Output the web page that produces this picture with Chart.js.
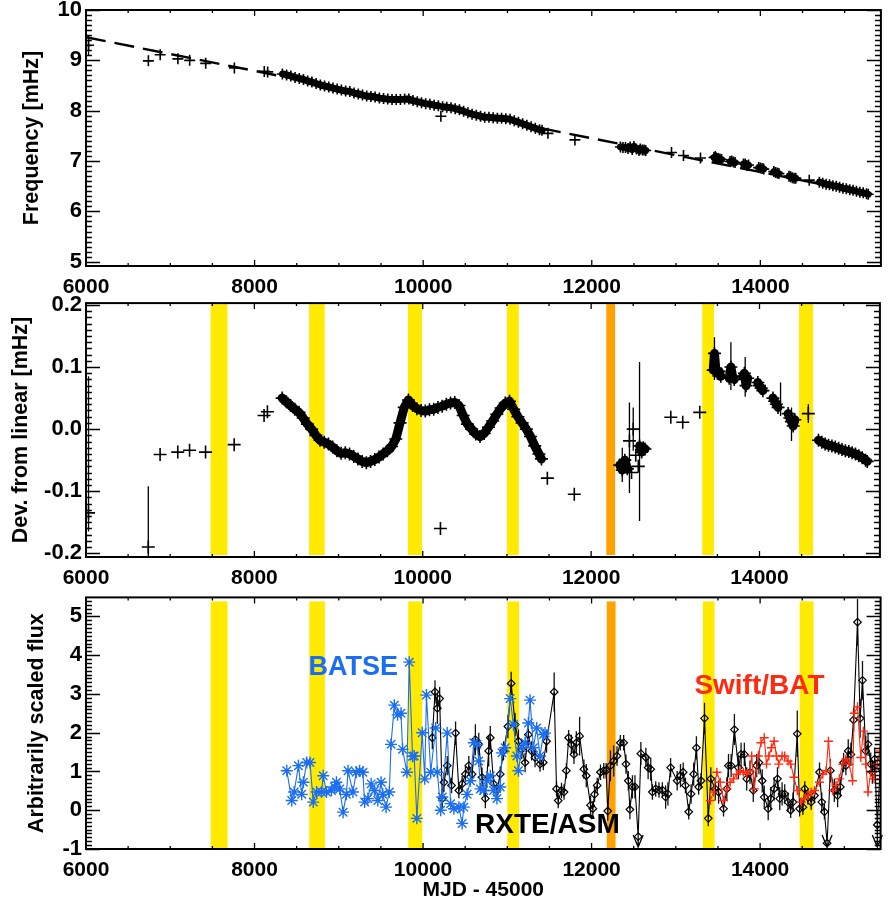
<!DOCTYPE html>
<html>
<head>
<meta charset="utf-8">
<script src="https://cdn.jsdelivr.net/npm/chart.js@4.4.0/dist/chart.umd.min.js"></script>
<style>
  body { margin: 0; background: #fff; width: 888px; height: 904px; overflow: hidden; position: relative; }
  canvas { position: absolute; left: 0; }
</style>
</head>
<body>
<canvas id="freqChart" width="888" height="295" style="top:0"></canvas>
<canvas id="devChart" width="888" height="295" style="top:295px"></canvas>
<canvas id="fluxChart" width="888" height="314" style="top:590px"></canvas>
<script>
// ---- axes / ticks ----
const xTicks = [6000, 8000, 10000, 12000, 14000];
const freqTicks = [5, 6, 7, 8, 9, 10];
const devTicks = [-0.2, -0.1, 0.0, 0.1, 0.2];
const fluxTicks = [-1, 0, 1, 2, 3, 4, 5];

// ---- shaded epochs (MJD - 45000) ----
const bandLo = [7480, 8650, 9825, 11000, 12180, 13320, 14470];
const bandHi = [7680, 8835, 9990, 11140, 12285, 13460, 14635];
const bandColor = ['#ffea00', '#ffea00', '#ffea00', '#ffea00', '#ffa200', '#ffea00', '#ffea00'];

// ---- pulse timing: frequency and deviation from linear ----
const timingMjd = [
  6030, 6740, 6880, 7090, 7230, 7420, 7760, 8115, 8155,
  8330, 8380, 8430, 8480, 8530, 8580, 8630, 8680, 8730, 8780,
  8830, 8880, 8930, 8980, 9030, 9080, 9130, 9180, 9230, 9280,
  9330, 9380, 9430, 9480, 9530, 9580, 9630, 9680, 9730, 9780,
  9830, 9880, 9930, 9980, 10030, 10080, 10130, 10180,
  10210,
  10230, 10280, 10330, 10380, 10430, 10480, 10530, 10580, 10630, 10680,
  10730, 10780, 10830, 10880, 10930, 10980, 11030, 11080, 11130, 11180,
  11230, 11280, 11330, 11380,
  11410,
  11480, 11800,
  12340, 12370, 12400, 12430, 12455, 12480, 12500, 12530, 12560, 12575, 12600, 12620, 12640,
  12946, 13088, 13290,
  13450, 13465, 13480, 13500, 13520, 13540, 13640, 13660, 13680, 13700,
  13800, 13820, 13840, 13860, 13980, 14000, 14020, 14040, 14160, 14180,
  14200, 14220, 14340, 14360, 14380, 14400, 14420, 14580,
  14700, 14740, 14780, 14820, 14860, 14900, 14940, 14980, 15020, 15060,
  15100, 15140, 15180, 15220, 15260, 15280
];
const freqMhz = [
  9.30, 8.99, 9.11, 9.03, 9.00, 8.94, 8.85, 8.78, 8.77,
  8.73, 8.71, 8.69, 8.66, 8.64, 8.62, 8.59, 8.57, 8.54, 8.51,
  8.49, 8.47, 8.45, 8.43, 8.41, 8.39, 8.38, 8.35, 8.33, 8.31,
  8.29, 8.28, 8.27, 8.25, 8.24, 8.23, 8.22, 8.22, 8.22, 8.23,
  8.23, 8.20, 8.18, 8.16, 8.14, 8.13, 8.11, 8.10,
  7.89,
  8.08, 8.07, 8.06, 8.04, 8.02, 7.99, 7.96, 7.93, 7.91, 7.89,
  7.87, 7.87, 7.86, 7.85, 7.85, 7.84, 7.83, 7.80, 7.77, 7.74,
  7.71, 7.68, 7.65, 7.62,
  7.61,
  7.55, 7.42,
  7.28, 7.27, 7.27, 7.25, 7.28, 7.23, 7.29, 7.24, 7.21, 7.24, 7.22, 7.22, 7.21,
  7.17, 7.11, 7.06,
  7.07, 7.09, 7.06, 7.05, 7.04, 7.03, 6.99, 7.00, 6.98, 6.97,
  6.94, 6.94, 6.91, 6.92, 6.87, 6.86, 6.85, 6.84, 6.79, 6.77,
  6.76, 6.75, 6.70, 6.69, 6.67, 6.66, 6.66, 6.62,
  6.58, 6.56, 6.54, 6.53, 6.51, 6.50, 6.48, 6.46, 6.45, 6.43,
  6.42, 6.40, 6.38, 6.37, 6.35, 6.34
];
const devMhz = [
  -0.135, -0.190, -0.041, -0.037, -0.034, -0.037, -0.025, 0.022, 0.028,
  0.050, 0.044, 0.038, 0.032, 0.027, 0.018, 0.008, 0.000, -0.010, -0.018,
  -0.021, -0.024, -0.029, -0.035, -0.039, -0.038, -0.040, -0.044, -0.048, -0.052,
  -0.054, -0.052, -0.049, -0.045, -0.040, -0.035, -0.028, -0.016, 0.010, 0.035,
  0.047, 0.038, 0.033, 0.030, 0.029, 0.031, 0.032, 0.035,
  -0.160,
  0.037, 0.040, 0.042, 0.043, 0.038, 0.022, 0.008, 0.000, -0.008, -0.012,
  -0.007, 0.003, 0.013, 0.024, 0.034, 0.042, 0.045, 0.032, 0.020, 0.010,
  0.000, -0.012, -0.027, -0.040,
  -0.048,
  -0.079, -0.105,
  -0.058, -0.066, -0.050, -0.064, -0.019, -0.070, 0.000, -0.042, -0.060, -0.027, -0.037, -0.030, -0.032,
  0.019, 0.011, 0.027,
  0.095, 0.122, 0.098, 0.090, 0.093, 0.085, 0.082, 0.100, 0.085, 0.080,
  0.085, 0.090, 0.070, 0.082, 0.075, 0.070, 0.066, 0.062, 0.050, 0.045,
  0.040, 0.035, 0.025, 0.018, 0.012, 0.005, 0.015, 0.025,
  -0.018, -0.021, -0.024, -0.026, -0.027, -0.029, -0.031, -0.033, -0.035, -0.036,
  -0.038, -0.040, -0.043, -0.046, -0.050, -0.052
];

// linear spin-down model (dashed line)
const fitMjd = [6000, 15320];
const fitFreq = [9.46, 6.34];

// long vertical error bars
const freqErrMjd = [6030];
const freqErrLo = [9.10];
const freqErrHi = [9.50];
const devErrMjd = [6030, 6740, 12370, 12455, 12500, 12575, 13465, 13660, 13830, 14250, 14380, 14580];
const devErrLo = [-0.165, -0.206, -0.085, -0.103, -0.035, -0.148, 0.079, 0.063, 0.052, 0.021, -0.019, 0.010];
const devErrHi = [0.085, -0.092, -0.030, 0.043, 0.035, 0.108, 0.148, 0.140, 0.116, 0.075, 0.035, 0.040];

// ---- BATSE ----
const batseMjd = [
  8383, 8442, 8470, 8521, 8560, 8580, 8619, 8658, 8697, 8737,
  8795, 8815, 8854, 8913, 8952, 8972, 9011, 9051, 9090, 9110,
  9168, 9207, 9247, 9286, 9306, 9345, 9384, 9424, 9463, 9502,
  9522, 9561, 9600, 9620, 9659, 9698, 9738, 9757, 9808, 9836,
  9875, 9895, 9926, 9990, 10020, 10040, 10091, 10150, 10170, 10209,
  10228, 10287, 10327, 10366, 10425, 10464, 10484, 10523, 10562, 10602,
  10641, 10661, 10680, 10720, 10759, 10798, 10837, 10877, 10916, 10936,
  10975, 11034, 11073, 11113, 11132, 11171, 11211, 11250, 11270, 11309,
  11348, 11388, 11427, 11447
];
const batseFlux = [
  1.02, 0.25, 0.47, 1.15, 0.41, 0.72, 1.23, 1.23, 0.21, 0.47,
  0.47, 0.89, 0.47, 0.51, 0.60, 0.72, 0.55, -0.05, 0.41, 1.02,
  0.47, 0.98, 1.02, 0.98, 0.21, 0.30, 0.68, 0.51, 0.25, 0.72,
  0.41, 0.08, 0.47, 1.70, 2.71, 2.46, 2.50, 1.57, 0.98, 3.82,
  1.39, 1.40, -0.21, 2.00, 0.81, 2.97, 0.98, 2.12, 0.98, 0.00,
  0.34, 1.99, 0.17, 0.04, 0.08, -0.34, 0.08, 0.41, 0.76, 1.74,
  1.70, 1.27, 0.55, 0.51, 0.76, 0.89, 0.51, 0.30, 0.60, 1.48,
  1.61, 2.88, 2.21, 1.40, 1.02, 1.61, 1.74, 2.25, 2.84, 1.61,
  2.12, 1.40, 1.95, 1.99
];

// ---- RXTE/ASM ----
const asmMjd = [
  10110, 10142, 10170, 10197, 10228, 10248, 10287, 10338, 10386, 10425,
  10464, 10503, 10543, 10582, 10621, 10661, 10700, 10739, 10779, 10798,
  10837, 10877, 10916, 10955, 11007, 11046, 11093, 11132, 11171, 11211,
  11250, 11289, 11329, 11388, 11427, 11466, 11556, 11584, 11604, 11643,
  11673, 11701, 11728, 11760, 11791, 11819, 11858, 11909, 11937, 11988,
  12015, 12035, 12067, 12106, 12145, 12173, 12192, 12224, 12263, 12302,
  12341, 12381, 12408, 12436, 12455, 12485, 12515, 12553, 12585, 12644,
  12671, 12702, 12722, 12761, 12800, 12840, 12879, 12906, 12938, 13016,
  13055, 13087, 13114, 13153, 13181, 13212, 13244, 13271, 13299, 13340,
  13385, 13415, 13468, 13507, 13566, 13605, 13625, 13656, 13695, 13743,
  13774, 13813, 13841, 13880, 13919, 13959, 13986, 14025, 14049, 14096,
  14127, 14166, 14206, 14233, 14261, 14292, 14331, 14363, 14390, 14441,
  14469, 14508, 14530, 14567, 14606, 14646, 14705, 14732, 14763, 14795,
  14834, 14881, 14920, 14952, 14991, 15018, 15046, 15077, 15109, 15156,
  15187, 15215, 15254, 15281, 15313, 15332, 15360, 15391, 15425
];
const asmFlux = [
  1.87, 3.05, 2.63, 2.88, 0.30, 0.72, 1.15, 0.64, 1.99, 0.51,
  0.68, 0.93, 1.15, 0.93, 1.82, 1.70, 0.85, 0.30, 1.53, 1.87,
  0.68, 0.51, 0.93, 1.53, 2.16, 3.27, 2.21, 1.78, 1.57, 1.23,
  1.95, 1.53, 1.36, 1.19, 1.23, 1.78, 3.05, 0.55, 0.25, 0.51,
  0.47, 1.02, 1.87, 1.70, 1.44, 1.74, 1.91, 1.06, 0.89, 0.13,
  0.04, 0.41, 0.64, 0.98, 1.02, 1.02, -0.02, 1.15, 1.27, 1.40,
  1.74, 1.74, 1.19, 0.76, 0.02, 0.60, 0.60, -0.68, 1.46, 1.36,
  1.10, 1.06, 0.47, 0.55, 0.52, 0.52, 0.34, 0.42, 1.10, 0.76,
  0.89, 0.98, 0.64, -0.04, 0.42, 0.93, 1.61, 0.60, 0.76, 2.37,
  -0.21, 0.81, 0.55, 0.47, 0.04, 0.55, 1.15, 1.15, 2.08, 1.10,
  1.44, 1.44, 0.81, 0.98, 0.51, 1.15, 1.23, 0.76, 0.34, 0.04,
  0.30, 0.55, 0.81, 0.30, 0.42, 0.42, 0.21, 0.00, 0.21, 1.97,
  0.04, 0.08, 0.55, 0.34, 0.21, 0.38, 0.98, 0.21, -0.04, -0.85,
  1.02, 0.51, 0.38, 0.60, 1.23, 1.15, 1.53, 1.44, 2.33, 4.85,
  2.37, 3.35, 1.53, 1.70, 1.19, 0.98, 1.32, -0.38, 1.10
];
const asmErr = [
  0.30, 0.30, 0.40, 0.30, 0.25, 0.25, 0.25, 0.20, 0.30, 0.20,
  0.20, 0.20, 0.25, 0.20, 0.40, 0.30, 0.25, 0.25, 0.40, 0.30,
  0.20, 0.20, 0.20, 0.25, 0.30, 0.30, 0.30, 0.30, 0.25, 0.25,
  0.30, 0.25, 0.25, 0.20, 0.20, 0.30, 0.50, 0.20, 0.20, 0.20,
  0.20, 0.20, 0.20, 0.25, 0.25, 0.30, 0.50, 0.25, 0.30, 0.25,
  0.20, 0.20, 0.20, 0.20, 0.20, 0.20, 0.25, 0.40, 0.40, 0.25,
  0.20, 0.20, 0.25, 0.25, 0.25, 0.30, 0.30, 0.00, 0.30, 0.25,
  0.30, 0.30, 0.20, 0.20, 0.20, 0.20, 0.30, 0.30, 0.25, 0.25,
  0.30, 0.25, 0.20, 0.20, 0.25, 0.30, 0.30, 0.20, 0.20, 0.40,
  0.20, 0.30, 0.30, 0.30, 0.20, 0.30, 0.30, 0.30, 0.40, 0.30,
  0.30, 0.30, 0.30, 0.30, 0.30, 0.30, 0.30, 0.30, 0.30, 0.30,
  0.30, 0.30, 0.30, 0.30, 0.30, 0.25, 0.25, 0.20, 0.25, 0.60,
  0.20, 0.20, 0.20, 0.20, 0.20, 0.20, 0.25, 0.25, 0.20, 0.00,
  0.30, 0.30, 0.30, 0.25, 0.25, 0.25, 0.30, 0.30, 0.30, 0.60,
  0.50, 0.50, 0.40, 0.30, 0.30, 0.30, 0.30, 0.00, 0.30
];
const asmLimitMjd = [12553, 14795, 15391];

// ---- Swift/BAT ----
const swiftMjd = [
  13409, 13448, 13487, 13527, 13566, 13605, 13644, 13684, 13723, 13762,
  13802, 13841, 13880, 13900, 13931, 13978, 14010, 14049, 14076, 14104,
  14135, 14166, 14194, 14221, 14261, 14292, 14331, 14363, 14402, 14441,
  14488, 14527, 14567, 14606, 14646, 14705, 14744, 14783, 14811, 14862,
  14901, 14940, 14979, 15018, 15058, 15097, 15117, 15156, 15195, 15226,
  15254, 15281, 15313, 15352, 15391, 15422
];
const swiftFlux = [
  0.25, 0.47, 0.98, 0.72, 0.25, 0.55, 0.72, 0.81, 0.93, 1.02,
  0.98, 0.93, 1.02, 1.40, 0.55, 1.40, 1.74, 1.87, 1.19, 1.40,
  1.61, 1.78, 1.40, 1.19, 1.40, 1.40, 1.27, 1.19, 0.85, 0.51,
  0.21, 0.30, 0.38, 0.47, 0.51, 0.72, 0.93, 1.02, 1.78, 0.51,
  0.64, 0.81, 1.19, 1.32, 1.19, 0.76, 2.50, 2.67, 1.36, 2.04,
  1.19, 0.47, 0.98, 0.81, 1.19, 1.53
];

// ---------------------------------------------------------------
const FONT = '"Liberation Sans", Arial, Helvetica, sans-serif';
const pts = (xs, ys) => xs.map((v, i) => ({ x: v, y: ys[i] }));

// densely sampled runs of timing points merge into a solid band;
// isolated pairs and large jumps stay as separate crosses
function denseSegment(xs, ys, maxDx, maxDy) {
  const near = (i, j) => j >= 0 && j < xs.length &&
    Math.abs(xs[j] - xs[i]) <= maxDx && Math.abs(ys[j] - ys[i]) <= maxDy;
  return ctx => {
    const i = ctx.p0DataIndex, j = ctx.p1DataIndex;
    const linked = near(i, j) && (near(i, i - 1) || near(j, j + 1));
    return linked ? '#000' : 'rgba(0,0,0,0)';
  };
}

// yellow / orange epochs behind the data
const bandPlugin = {
  id: 'bands',
  beforeDatasetsDraw(chart, args, opts) {
    const { ctx, chartArea: a, scales: { x } } = chart;
    ctx.save();
    bandLo.forEach((lo, i) => {
      const x0 = x.getPixelForValue(lo);
      const x1 = x.getPixelForValue(bandHi[i]);
      ctx.fillStyle = bandColor[i];
      ctx.fillRect(x0, a.top + opts.top, x1 - x0, a.bottom - a.top - opts.top - opts.bottom);
    });
    ctx.restore();
  }
};

// vertical error bars
const errorBarPlugin = {
  id: 'errorBars',
  beforeDatasetsDraw(chart, args, opts) {
    const { ctx, chartArea: a, scales: { x, y } } = chart;
    ctx.save();
    ctx.beginPath();
    ctx.rect(a.left, a.top, a.right - a.left, a.bottom - a.top);
    ctx.clip();
    (opts.sets || []).forEach(s => {
      ctx.strokeStyle = s.color;
      ctx.lineWidth = s.width;
      ctx.beginPath();
      s.mjd.forEach((m, i) => {
        if (s.lo[i] === s.hi[i]) return;
        const px = x.getPixelForValue(m);
        ctx.moveTo(px, y.getPixelForValue(s.lo[i]));
        ctx.lineTo(px, y.getPixelForValue(s.hi[i]));
      });
      ctx.stroke();
    });
    ctx.restore();
  }
};

// upper-limit arrows for ASM
const limitPlugin = {
  id: 'limits',
  afterDatasetsDraw(chart, args, opts) {
    if (!opts.mjd) return;
    const { ctx, chartArea: a, scales: { x, y } } = chart;
    ctx.save();
    ctx.strokeStyle = '#000';
    ctx.lineWidth = 1.3;
    opts.mjd.forEach(m => {
      const i = asmMjd.indexOf(m);
      const px = x.getPixelForValue(m);
      const py = y.getPixelForValue(asmFlux[i]);
      const yb = a.bottom - 2;
      ctx.beginPath();
      ctx.moveTo(px, py);
      ctx.lineTo(px, yb);
      ctx.moveTo(px - 5, yb - 12);
      ctx.lineTo(px, yb);
      ctx.lineTo(px + 5, yb - 12);
      ctx.stroke();
    });
    ctx.restore();
  }
};

// instrument labels
const textPlugin = {
  id: 'texts',
  afterDatasetsDraw(chart, args, opts) {
    if (!opts.items) return;
    const { ctx, scales: { x, y } } = chart;
    ctx.save();
    ctx.textBaseline = 'alphabetic';
    ctx.textAlign = 'left';
    opts.items.forEach(t => {
      ctx.font = `bold ${t.size}px ${FONT}`;
      ctx.fillStyle = t.color;
      ctx.fillText(t.text, x.getPixelForValue(t.x), y.getPixelForValue(t.y));
    });
    ctx.restore();
  }
};

// IDL style box with inward major/minor ticks on all four sides
const idlAxes = {
  id: 'idlAxes',
  afterDraw(chart, args, o) {
    const { ctx, chartArea: a, scales: { x, y } } = chart;
    ctx.save();
    ctx.strokeStyle = '#000';
    ctx.lineWidth = 1.3;
    ctx.beginPath();
    const nx0 = Math.ceil(x.min / o.xMinor - 1e-6), nx1 = Math.floor(x.max / o.xMinor + 1e-6);
    for (let n = nx0; n <= nx1; n++) {
      const v = n * o.xMinor;
      const px = x.getPixelForValue(v);
      const major = Math.abs(v / o.xMajor - Math.round(v / o.xMajor)) < 1e-6;
      const len = major ? o.xLen : o.xLen / 2;
      ctx.moveTo(px, a.bottom); ctx.lineTo(px, a.bottom - len);
      ctx.moveTo(px, a.top); ctx.lineTo(px, a.top + len);
    }
    const ny0 = Math.ceil(y.min / o.yMinor - 1e-6), ny1 = Math.floor(y.max / o.yMinor + 1e-6);
    for (let n = ny0; n <= ny1; n++) {
      const v = n * o.yMinor;
      const py = Math.round(y.getPixelForValue(v)) + 0.5;
      const major = Math.abs(v / o.yMajor - Math.round(v / o.yMajor)) < 1e-6;
      const len = major ? o.yLen : o.yLen * 0.42;
      ctx.moveTo(a.left, py); ctx.lineTo(a.left + len, py);
      ctx.moveTo(a.right, py); ctx.lineTo(a.right - len, py);
    }
    ctx.stroke();
    ctx.lineWidth = 2;
    ctx.strokeRect(a.left, a.top, a.right - a.left, a.bottom - a.top);
    ctx.restore();
  }
};

function xScale(height, title) {
  return {
    type: 'linear', min: 6000, max: 15430,
    grid: { display: false, drawTicks: false }, border: { display: false },
    afterBuildTicks: s => { s.ticks = xTicks.map(v => ({ value: v })); },
    ticks: {
      autoSkip: false, maxRotation: 0, padding: 9, color: '#000',
      font: { family: FONT, size: 21, weight: 'bold' },
      callback: v => String(v)
    },
    title: title ? {
      display: true, text: title, color: '#000',
      font: { family: FONT, size: 21, weight: 'bold' },
      padding: { top: 0, bottom: 1 }
    } : { display: false },
    afterFit: s => { s.height = height; s.paddingLeft = 0; s.paddingRight = 0; }
  };
}

function yScale(min, max, tickVals, fmt, title, titlePad) {
  return {
    type: 'linear', min: min, max: max,
    grid: { display: false, drawTicks: false }, border: { display: false },
    afterBuildTicks: s => { s.ticks = tickVals.map(v => ({ value: v })); },
    ticks: {
      autoSkip: false, padding: 4, color: '#000',
      font: { family: FONT, size: 22, weight: 'bold' },
      callback: fmt
    },
    title: {
      display: true, text: title, color: '#000',
      font: { family: FONT, size: 21.5, weight: 'bold' },
      padding: { top: titlePad, bottom: 0 }
    },
    afterFit: s => { s.width = 86; s.paddingTop = 0; s.paddingBottom = 0; }
  };
}

const baseOptions = {
  responsive: false,
  animation: false,
  devicePixelRatio: 1,
  events: []
};

// ---- top: frequency ----
new Chart(document.getElementById('freqChart'), {
  type: 'scatter',
  data: {
    datasets: [
      {
        data: pts(timingMjd, freqMhz),
        pointStyle: 'cross', pointRadius: 5.5, pointBorderColor: '#000', pointBorderWidth: 1.6,
        showLine: true, borderWidth: 7, borderJoinStyle: 'round', borderCapStyle: 'round',
        segment: { borderColor: denseSegment(timingMjd, freqMhz, 55, 0.05) }
      },
      {
        data: pts(fitMjd, fitFreq),
        showLine: true, borderColor: '#000', borderWidth: 2.4, borderDash: [20, 9],
        pointRadius: 0
      }
    ]
  },
  options: {
    ...baseOptions,
    layout: { padding: { top: 10, right: 1, left: 0, bottom: 0 } },
    scales: {
      x: xScale(29, null),
      y: yScale(4.915, 10.0, freqTicks, v => String(v), 'Frequency [mHz]', 19)
    },
    plugins: {
      legend: { display: false }, tooltip: { enabled: false },
      errorBars: { sets: [{ mjd: freqErrMjd, lo: freqErrLo, hi: freqErrHi, color: '#000', width: 1.3 }] },
      idlAxes: { xMinor: 500, xMajor: 2000, xLen: 6, yMinor: 0.1, yMajor: 1, yLen: 14 }
    }
  },
  plugins: [errorBarPlugin, idlAxes]
});

// ---- middle: deviation from linear ----
new Chart(document.getElementById('devChart'), {
  type: 'scatter',
  data: {
    datasets: [
      {
        data: pts(timingMjd, devMhz),
        pointStyle: 'cross', pointRadius: 6.5, pointBorderColor: '#000', pointBorderWidth: 1.6,
        showLine: true, borderWidth: 9, borderJoinStyle: 'round', borderCapStyle: 'round',
        segment: { borderColor: denseSegment(timingMjd, devMhz, 55, 0.03) }
      }
    ]
  },
  options: {
    ...baseOptions,
    layout: { padding: { top: 8, right: 1, left: 0, bottom: 0 } },
    scales: {
      x: xScale(33, null),
      y: yScale(-0.206, 0.203, devTicks, v => v.toFixed(1), 'Dev. from linear [mHz]', 8)
    },
    plugins: {
      legend: { display: false }, tooltip: { enabled: false },
      bands: { top: 1, bottom: 2 },
      errorBars: { sets: [{ mjd: devErrMjd, lo: devErrLo, hi: devErrHi, color: '#000', width: 1.3 }] },
      idlAxes: { xMinor: 500, xMajor: 2000, xLen: 6, yMinor: 0.01, yMajor: 0.1, yLen: 14 }
    }
  },
  plugins: [bandPlugin, errorBarPlugin, idlAxes]
});

// ---- bottom: light curves ----
new Chart(document.getElementById('fluxChart'), {
  type: 'scatter',
  data: {
    datasets: [
      {
        label: 'Swift/BAT',
        data: pts(swiftMjd, swiftFlux),
        showLine: true, borderColor: '#ff2a10', borderWidth: 1.1,
        pointStyle: 'cross', pointRadius: 4.5, pointBorderWidth: 1.4, pointBorderColor: '#ff2a10'
      },
      {
        label: 'BATSE',
        data: pts(batseMjd, batseFlux),
        showLine: true, borderColor: '#1a6ef2', borderWidth: 1.1,
        pointStyle: 'star', pointRadius: 6, pointBorderWidth: 1.4, pointBorderColor: '#1a6ef2'
      },
      {
        label: 'RXTE/ASM',
        data: pts(asmMjd, asmFlux),
        showLine: true, borderColor: '#000', borderWidth: 1.1,
        pointStyle: 'rectRot', pointRadius: 3.8, pointBorderWidth: 1.2,
        pointBorderColor: '#000', pointBackgroundColor: 'rgba(255,255,255,0)'
      }
    ]
  },
  options: {
    ...baseOptions,
    layout: { padding: { top: 4, right: 1, left: 0, bottom: 0 } },
    scales: {
      x: xScale(55, 'MJD - 45000'),
      y: yScale(-1.0, 5.49, fluxTicks, v => String(v), 'Arbitrarily scaled flux', 24)
    },
    plugins: {
      legend: { display: false }, tooltip: { enabled: false },
      bands: { top: 4, bottom: 1 },
      errorBars: {
        sets: [{
          mjd: asmMjd,
          lo: asmFlux.map((f, i) => f - asmErr[i]),
          hi: asmFlux.map((f, i) => f + asmErr[i]),
          color: '#111', width: 1.3
        }]
      },
      limits: { mjd: asmLimitMjd },
      texts: {
        items: [
          { text: 'BATSE', x: 8640, y: 3.49, size: 27, color: '#1a6ef2' },
          { text: 'RXTE/ASM', x: 10617, y: -0.59, size: 28, color: '#000' },
          { text: 'Swift/BAT', x: 13220, y: 3.01, size: 28, color: '#ff2a10' }
        ]
      },
      idlAxes: { xMinor: 500, xMajor: 2000, xLen: 6, yMinor: 0.1, yMajor: 1, yLen: 14 }
    }
  },
  plugins: [bandPlugin, errorBarPlugin, limitPlugin, textPlugin, idlAxes]
});
</script>
</body>
</html>
